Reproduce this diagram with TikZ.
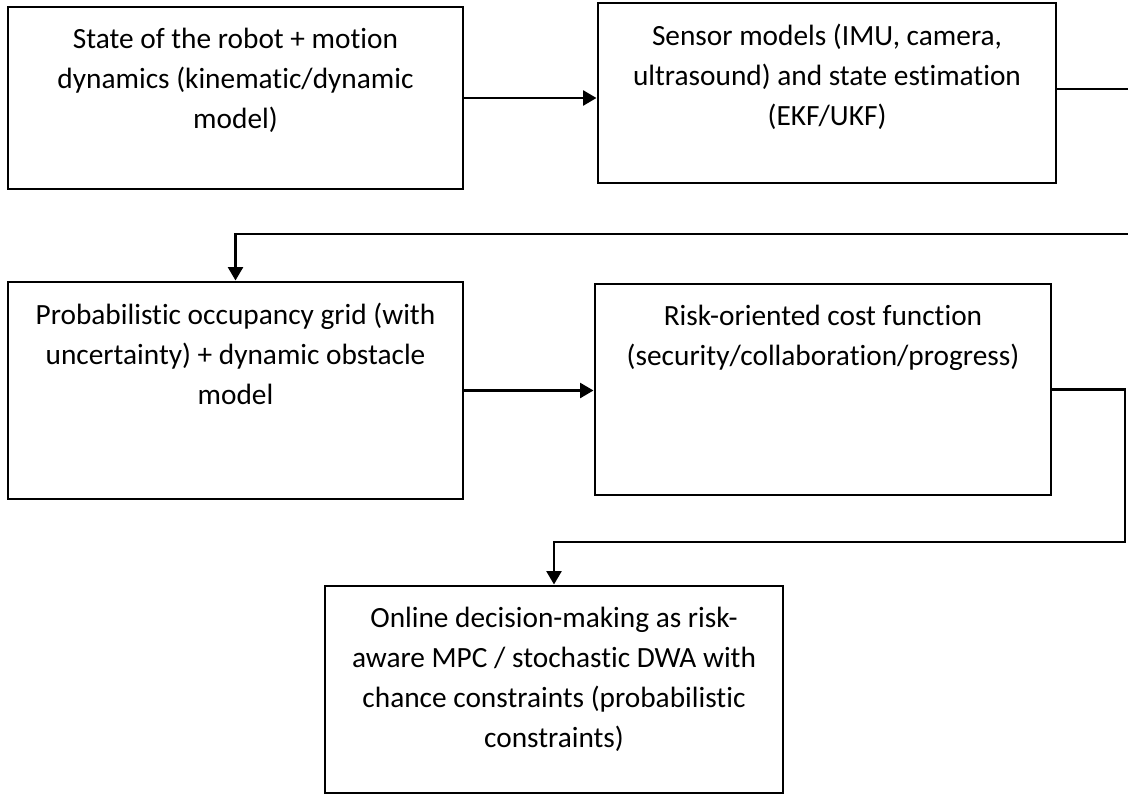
\documentclass[tikz,border=0pt]{standalone}
\usepackage{fontspec}
\setmainfont{Carlito}[Ligatures={NoCommon,NoContextual}]
\usetikzlibrary{arrows.meta,fit,calc}
\begin{document}
\begin{tikzpicture}[x=0.75pt,y=-0.75pt,
  box/.style={draw=black,line width=2.2pt,inner sep=0pt,fill=none},
  txt/.style={align=center,inner sep=0pt,anchor=north,font=\fontsize{22}{30}\selectfont},
  conn/.style={draw=black,line width=2.2pt},
  arr/.style={conn,-{Triangle[length=10pt,width=11pt]}}]
\useasboundingbox[fill=white] (0,0) rectangle (1128,796);
\node[box,fit={(8,7) (463,189)}] (b1) {};
\node[box,fit={(598,3) (1056,183)}] (b2) {};
\node[box,fit={(8,282) (463,499)}] (b3) {};
\node[box,fit={(595,284) (1051,495)}] (b4) {};
\node[box,fit={(325,586) (783,793)}] (b5) {};
\node[txt] (t1) at ($(b1.north)+(0,22)$) {State of the robot + motion\\dynamics (kinematic/dynamic\\model)};
\node[txt] (t2) at ($(b2.north)+(0,22)$) {Sensor models (IMU, camera,\\ultrasound) and state estimation\\(EKF/UKF)};
\node[txt] (t3) at ($(b3.north)+(0,22)$) {Probabilistic occupancy grid (with\\uncertainty) + dynamic obstacle\\model};
\node[txt] (t4) at ($(b4.north)+(0,22)$) {Risk-oriented cost function\\(security/collaboration/progress)};
\node[txt] (t5) at ($(b5.north)+(0,22)$) {Online decision-making as risk-\\aware MPC / stochastic DWA with\\chance constraints (probabilistic\\constraints)};
\coordinate (e1) at (1128,89);
\coordinate (e2) at (1128,234);
\coordinate (c3) at (1125,542);
\draw[arr] (b1.east) -- (b1.east -| b2.west);
\draw[conn] (b2.east |- e1) -- (e1);
\draw[arr] (e2) -| (b3.north);
\draw[arr] (b3.east) -- (b3.east -| b4.west);
\draw[arr] (b4.east) -| (c3) -| (b5.north);
\end{tikzpicture}
\end{document}
